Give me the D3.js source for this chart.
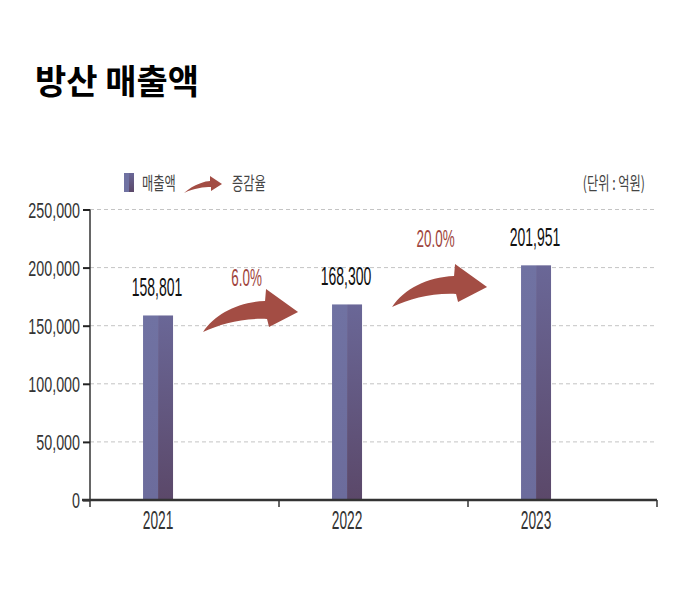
<!DOCTYPE html>
<html><head><meta charset="utf-8">
<script src="https://cdn.jsdelivr.net/npm/d3@7"></script>
<style>
html,body{margin:0;padding:0;background:#fff;}
svg{display:block;}
</style></head>
<body>
<svg id="chart" width="680" height="604"></svg>
<script>
const title = "방산 매출액";
const years = ["2021", "2022", "2023"];
const sales = [158801, 168300, 201951];
const growthLabels = ["6.0%", "20.0%"];
const yTicks = [0, 50000, 100000, 150000, 200000, 250000];
const legendLabels = ["매출액", "증감율"];
const unitLabel = "(단위 : 억원)";

const svg = d3.select("#chart");
const NUM_FONT = "'Liberation Sans', Arial, sans-serif";
const KR_FONT = "'Noto Sans CJK KR', 'Noto Sans', sans-serif";

const x = d3.scaleBand().domain(years).range([90, 657]).paddingInner(0).paddingOuter(0);
const y = d3.scaleLinear().domain([0, 250000]).range([500, 209.5]);
const barW = 30;
const cx = d => x(d) + x.bandwidth() * 0.36;

const defs = svg.append("defs");
const g1 = defs.append("linearGradient").attr("id", "barDark").attr("x1", 0).attr("y1", 0).attr("x2", 0).attr("y2", 1);
g1.append("stop").attr("offset", "0%").attr("stop-color", "#6a6797");
g1.append("stop").attr("offset", "100%").attr("stop-color", "#5b4869");
const g2 = defs.append("linearGradient").attr("id", "barLight").attr("x1", 0).attr("y1", 0).attr("x2", 0).attr("y2", 1);
g2.append("stop").attr("offset", "0%").attr("stop-color", "#7072a2");
g2.append("stop").attr("offset", "100%").attr("stop-color", "#6c6c9c");

function stxt(sel, str, px, py, size, sx, anchor, fill, family, weight) {
  return sel.append("text")
    .attr("transform", `translate(${px},${py}) scale(${sx},1)`)
    .attr("text-anchor", anchor)
    .attr("font-family", family || NUM_FONT)
    .attr("font-size", size)
    .attr("font-weight", weight || "normal")
    .attr("fill", fill)
    .text(str);
}

// Title
svg.append("text").attr("x", 35).attr("y", 94)
  .attr("font-family", KR_FONT).attr("font-weight", "bold").attr("font-size", 34)
  .attr("fill", "#000").text(title);

// Gridlines
svg.append("g").selectAll("line").data(yTicks.filter(t => t > 0)).join("line")
  .attr("x1", 90).attr("x2", 657)
  .attr("y1", d => y(d)).attr("y2", d => y(d))
  .attr("stroke", "#c4c4c4").attr("stroke-width", 1).attr("stroke-dasharray", "4,3");

// Y axis
const yAxis = svg.append("g").attr("transform", "translate(90,0)")
  .call(d3.axisLeft(y).tickValues(yTicks).tickSize(7).tickFormat(""));
yAxis.select(".domain").attr("stroke", "#333").attr("stroke-width", 1.5).attr("d", `M0,${y(250000)}V${y(0)}`);
yAxis.selectAll(".tick line").attr("stroke", "#222").attr("stroke-width", 2);
const fmt = d3.format(",");
yTicks.forEach(t => stxt(svg, fmt(t), 80, y(t) + 8, 22, 0.65, "end", "#333"));

// Bars
const bars = svg.append("g").selectAll("g").data(years).join("g");
bars.append("rect")
  .attr("x", d => cx(d) - barW / 2).attr("width", barW / 2)
  .attr("y", (d, i) => y(sales[i])).attr("height", (d, i) => y(0) - y(sales[i]))
  .attr("fill", "url(#barLight)");
bars.append("rect")
  .attr("x", d => cx(d)).attr("width", barW / 2)
  .attr("y", (d, i) => y(sales[i])).attr("height", (d, i) => y(0) - y(sales[i]))
  .attr("fill", "url(#barDark)");

// X axis
const xAxis = svg.append("g").attr("transform", `translate(0,${y(0)})`);
xAxis.append("line").attr("x1", 82).attr("x2", 657).attr("y1", 0).attr("y2", 0)
  .attr("stroke", "#333").attr("stroke-width", 2.5);
const boundaries = years.map(d => x(d)).concat([x(years[years.length - 1]) + x.bandwidth()]);
xAxis.selectAll("line.tk").data(boundaries).join("line").attr("class", "tk")
  .attr("x1", d => d).attr("x2", d => d).attr("y1", 0).attr("y2", 7)
  .attr("stroke", "#333").attr("stroke-width", 1.5);
years.forEach(d => stxt(svg, d, cx(d), 529, 25, 0.55, "middle", "#333"));

// Value labels
years.forEach((d, i) => stxt(svg, fmt(sales[i]), cx(d) - 1, y(sales[i]) - 19, 25, 0.56, "middle", "#111"));

// Arrows
const arrowPath = "M0,0 C12,-18 35,-30 62,-31 L63,-43 L95,-20 L66,-5 L64,-13 C38,-14 18,-8 0,0 Z";
growthLabels.forEach((lab, i) => {
  const a = cx(years[i]), b = cx(years[i + 1]);
  const tailX = a + 45;
  const tailY = (y(sales[i]) + y(sales[i + 1])) / 2 + 22;
  svg.append("path").attr("d", arrowPath)
    .attr("transform", `translate(${tailX},${tailY})`)
    .attr("fill", "#a34d44");
  stxt(svg, lab, (a + b) / 2 - 6, y(sales[i + 1]) - 18, 24, 0.56, "middle", "#a0453d");
});

// Legend
const lg = svg.append("g");
lg.append("rect").attr("x", 124).attr("y", 173).attr("width", 5).attr("height", 19).attr("fill", "#7072a2");
lg.append("rect").attr("x", 129).attr("y", 173).attr("width", 5).attr("height", 19).attr("fill", "url(#barDark)");
stxt(lg, legendLabels[0], 142, 190, 18, 0.68, "start", "#444", KR_FONT);
lg.append("path").attr("d", "M0,0 C10,-9 22,-12 26,-12 L26,-17 L38,-9 L27,-2 L27,-6 C20,-6 10,-5 0,0 Z")
  .attr("transform", "translate(184,193)").attr("fill", "#a34d44");
stxt(lg, legendLabels[1], 232, 190, 18, 0.68, "start", "#444", KR_FONT);
stxt(lg, unitLabel, 645, 190, 18, 0.68, "end", "#444", KR_FONT);
</script>
</body></html>
